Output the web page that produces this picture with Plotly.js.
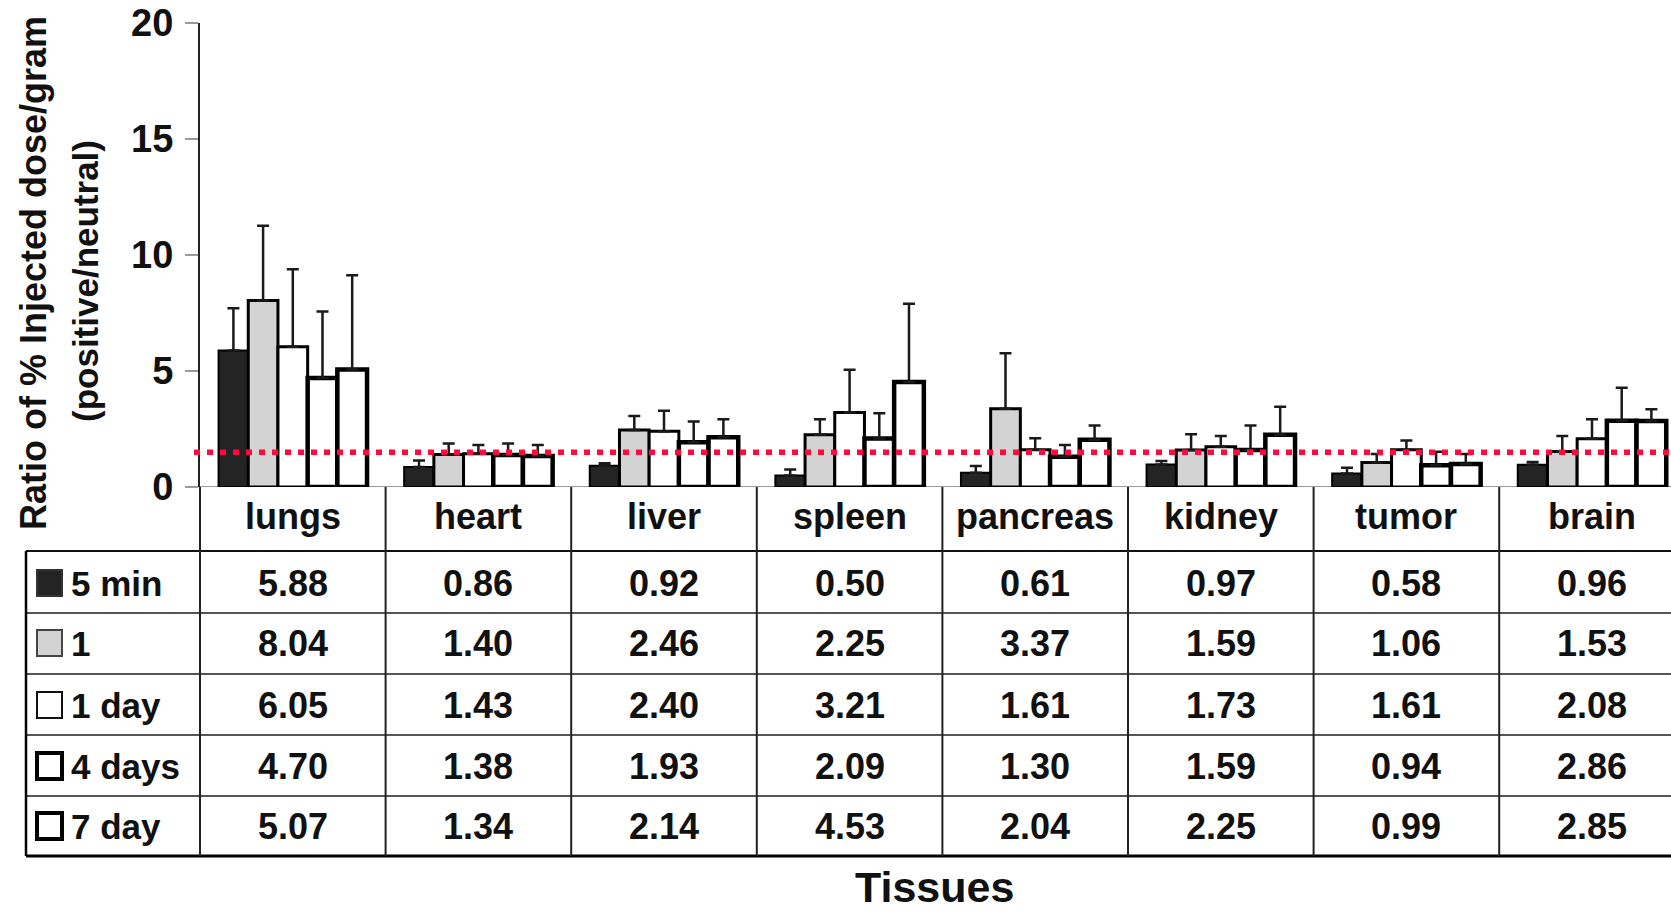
<!DOCTYPE html>
<html>
<head>
<meta charset="utf-8">
<script src="https://cdn.plot.ly/plotly-3.0.1.min.js"></script>
<style>
html,body{margin:0;padding:0;background:#fff;}
#chart{width:1671px;height:913px;}
</style>
</head>
<body>
<div id="chart"></div>
<script>
// ---------- DATA ----------
const categories = ['lungs','heart','liver','spleen','pancreas','kidney','tumor','brain'];
const seriesNames = ['5 min','1','1 day','4 days','7 day'];

const v5min  = [5.88, 0.86, 0.92, 0.50, 0.61, 0.97, 0.58, 0.96];
const v1     = [8.04, 1.40, 2.46, 2.25, 3.37, 1.59, 1.06, 1.53];
const v1day  = [6.05, 1.43, 2.40, 3.21, 1.61, 1.73, 1.61, 2.08];
const v4days = [4.70, 1.38, 1.93, 2.09, 1.30, 1.59, 0.94, 2.86];
const v7day  = [5.07, 1.34, 2.14, 4.53, 2.04, 2.25, 0.99, 2.85];

const e5min  = [1.83, 0.28, 0.10, 0.25, 0.30, 0.15, 0.25, 0.12];
const e1     = [3.22, 0.48, 0.60, 0.67, 2.40, 0.68, 0.36, 0.67];
const e1day  = [3.34, 0.38, 0.89, 1.84, 0.49, 0.47, 0.39, 0.84];
const e4days = [2.86, 0.50, 0.89, 1.09, 0.51, 1.06, 0.58, 1.42];
const e7day  = [4.06, 0.47, 0.78, 3.37, 0.61, 1.21, 0.43, 0.50];

const yTickVals = [0, 5, 10, 15, 20];
const yTickText = ['0', '5', '10', '15', '20'];
const threshold = 1.5;

const yTitle1 = 'Ratio of % Injected dose/gram';
const yTitle2 = '(positive/neutral)';
const xTitle = 'Tissues';

// ---------- STYLES ----------
const FONT = '"Liberation Sans", Arial, Helvetica, sans-serif';
const values = [v5min, v1, v1day, v4days, v7day];
const errors = [e5min, e1, e1day, e4days, e7day];
const fills = ['#242424', '#d3d3d3', '#ffffff', '#ffffff', '#ffffff'];
const lineW = [2, 3, 3, 4.5, 4.5];

// pixel helpers (plot area: x 200..1671, y 23..487)
const L = 200, W = 1471, B = 487, H = 464;
const px = X => (X - L) / W;
const py = Y => (B - Y) / H;

const traces = values.map((vals, i) => ({
  type: 'bar',
  name: seriesNames[i],
  x: categories,
  y: vals,
  marker: {color: fills[i], line: {color: '#000', width: lineW[i]}},
  error_y: {
    type: 'data', symmetric: false,
    array: errors[i], arrayminus: vals.map(() => 0),
    color: '#1a1a1a', thickness: 2.5, width: 6
  },
  hoverinfo: 'x+y'
}));

const shapes = [];
const annotations = [];

// x axis baseline (gray)
shapes.push({type:'line', xref:'paper', yref:'y', x0:0, x1:1, y0:0, y1:0,
  line:{color:'#9a9a9a', width:2}, layer:'below'});

// red dotted reference line
shapes.push({type:'line', xref:'paper', yref:'y', x0:px(194), x1:1, y0:threshold, y1:threshold,
  line:{color:'#ff0a3c', width:5.5, dash:'6px,7px'}});

// table rows
const rowLines = [551, 613, 674, 735, 796];
const tableBottom = 856;
rowLines.forEach((Y, i) => {
  shapes.push({type:'line', xref:'paper', yref:'paper', x0:px(26), x1:1, y0:py(Y), y1:py(Y),
    line:{color: i === 0 ? '#111' : '#555', width:2}});
});
shapes.push({type:'line', xref:'paper', yref:'paper', x0:px(26), x1:1, y0:py(tableBottom), y1:py(tableBottom),
  line:{color:'#000', width:3}});
// left border of table
shapes.push({type:'line', xref:'paper', yref:'paper', x0:px(26), x1:px(26), y0:py(551), y1:py(tableBottom),
  line:{color:'#000', width:2.5}});
// continuation of y axis down through the table
shapes.push({type:'line', xref:'paper', yref:'paper', x0:0, x1:0, y0:0, y1:py(tableBottom),
  line:{color:'#222', width:2}});
// category dividers
for (let k = 0; k < categories.length - 1; k++) {
  shapes.push({type:'line', xref:'x', yref:'paper', x0:k + 0.5, x1:k + 0.5, y0:0, y1:py(tableBottom),
    line:{color:'#222', width:2}});
}

// category labels (header row)
categories.forEach(c => {
  annotations.push({xref:'x', yref:'paper', x:c, y:py(516), text:'<b>' + c + '</b>',
    showarrow:false, xanchor:'center', yanchor:'middle',
    font:{family:FONT, size:36, color:'#111'}});
});

// table rows: legend swatch + label + values
const rowCenters = [583, 643, 705, 766, 826];
const swW = [2, 2, 2, 4, 4];
const swLine = ['#333', '#444', '#111', '#000', '#000'];
seriesNames.forEach((s, i) => {
  const yc = rowCenters[i];
  shapes.push({type:'rect', xref:'paper', yref:'paper',
    x0:px(37), x1:px(62), y0:py(yc - 13), y1:py(yc + 13),
    fillcolor: fills[i], line:{color: swLine[i], width: swW[i]}});
  annotations.push({xref:'paper', yref:'paper', x:px(69), y:py(yc), text:'<b>' + s + '</b>',
    showarrow:false, xanchor:'left', yanchor:'middle',
    font:{family:FONT, size:35, color:'#111'}});
  values[i].forEach((v, k) => {
    annotations.push({xref:'x', yref:'paper', x:categories[k], y:py(yc), text:'<b>' + v.toFixed(2) + '</b>',
      showarrow:false, xanchor:'center', yanchor:'middle',
      font:{family:FONT, size:36, color:'#111'}});
  });
});

// axis titles
annotations.push({xref:'paper', yref:'paper', x:px(33), y:py(273), text:'<b>' + yTitle1 + '</b>',
  textangle:-90, showarrow:false, xanchor:'center', yanchor:'middle',
  font:{family:FONT, size:36, color:'#111'}});
annotations.push({xref:'paper', yref:'paper', x:px(85), y:py(281), text:'<b>' + yTitle2 + '</b>',
  textangle:-90, showarrow:false, xanchor:'center', yanchor:'middle',
  font:{family:FONT, size:35, color:'#111'}});
annotations.push({xref:'paper', yref:'paper', x:px(934), y:py(887), text:'<b>' + xTitle + '</b>',
  showarrow:false, xanchor:'center', yanchor:'middle',
  font:{family:FONT, size:43, color:'#111'}});

const layout = {
  width: 1671, height: 913,
  margin: {l: L, r: 0, t: 23, b: 913 - B, pad: 0},
  paper_bgcolor: '#fff', plot_bgcolor: '#fff',
  barmode: 'group', bargap: 0.2, bargroupgap: 0,
  showlegend: false,
  xaxis: {type:'category', range:[-0.5, -0.5 + W / 185.6], showticklabels:false, ticks:'',
    showline:false, showgrid:false, zeroline:false, fixedrange:true},
  yaxis: {range:[0, 20], tickmode:'array', tickvals:yTickVals, ticktext:yTickText.map(t => '<b>' + t + '</b>'),
    ticks:'outside', ticklen:13, tickwidth:2, tickcolor:'#999',
    showline:true, linecolor:'#222', linewidth:2, showgrid:false, zeroline:false,
    ticklabelstandoff: 4,
    tickfont:{family:FONT, size:38, color:'#111'}, fixedrange:true},
  shapes: shapes,
  annotations: annotations
};

Plotly.newPlot('chart', traces, layout, {staticPlot:true, displayModeBar:false});
</script>
</body>
</html>
